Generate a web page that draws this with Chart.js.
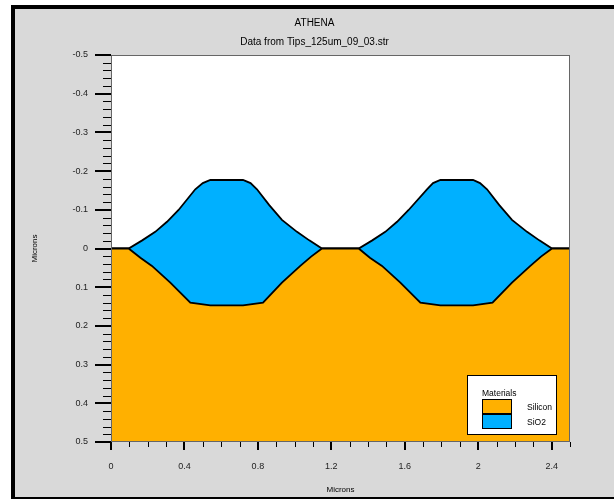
<!DOCTYPE html>
<html>
<head>
<meta charset="utf-8">
<script src="https://cdn.jsdelivr.net/npm/chart.js@4.4.1/dist/chart.umd.min.js"></script>
<style>
html,body{margin:0;padding:0;background:#fff;}
#c{display:block;}
</style>
</head>
<body>
<canvas id="c" width="614" height="499"></canvas>
<script>
// ---- data (microns) ----
const siliconX = [0, 0.096, 0.160, 0.223, 0.323, 0.432, 0.541, 0.719, 0.828, 0.931, 1.031, 1.090, 1.149, 1.349, 1.410, 1.476, 1.576, 1.685, 1.794, 1.972, 2.078, 2.184, 2.284, 2.342, 2.402, 2.5];
const siliconY = [0, 0, 0.024, 0.045, 0.088, 0.140, 0.147, 0.147, 0.140, 0.088, 0.045, 0.021, 0, 0, 0.024, 0.045, 0.088, 0.140, 0.147, 0.147, 0.140, 0.088, 0.045, 0.021, 0, 0];
const oxideX = [0, 0.096, 0.170, 0.241, 0.305, 0.368, 0.459, 0.500, 0.541, 0.719, 0.760, 0.795, 0.862, 0.931, 1.013, 1.080, 1.149, 1.349, 1.423, 1.494, 1.558, 1.621, 1.721, 1.754, 1.794, 1.972, 2.010, 2.048, 2.115, 2.184, 2.266, 2.333, 2.402, 2.5];
const oxideY = [0, 0, -0.021, -0.043, -0.069, -0.0995, -0.153, -0.169, -0.177, -0.177, -0.169, -0.153, -0.112, -0.074, -0.043, -0.021, 0, 0, -0.021, -0.043, -0.069, -0.0995, -0.153, -0.169, -0.177, -0.177, -0.169, -0.153, -0.112, -0.074, -0.043, -0.021, 0, 0];
const materials = ["Silicon", "SiO2"];
const xTickValues = [0, 0.4, 0.8, 1.2, 1.6, 2, 2.4];
const xTickLabels = ["0", "0.4", "0.8", "1.2", "1.6", "2", "2.4"];
const yTickValues = [-0.5, -0.4, -0.3, -0.2, -0.1, 0, 0.1, 0.2, 0.3, 0.4, 0.5];
const yTickLabels = ["-0.5", "-0.4", "-0.3", "-0.2", "-0.1", "0", "0.1", "0.2", "0.3", "0.4", "0.5"];
const titleText = "ATHENA";
const subtitleText = "Data from Tips_125um_09_03.str";
const axisTitle = "Microns";

const COLORS = { Silicon: "#FFB000", SiO2: "#00B0FF" };
const FONT = "'Liberation Sans', Arial, Helvetica, sans-serif";

const toPts = (xs, ys) => xs.map((x, i) => ({ x: x, y: ys[i] }));

const framePlugin = {
  id: 'frame',
  beforeDraw(chart) {
    const ctx = chart.ctx, W = chart.width, H = chart.height;
    ctx.save();
    ctx.fillStyle = '#ffffff';
    ctx.fillRect(0, 0, W, H);
    ctx.fillStyle = '#000000';
    ctx.fillRect(11, 5, W - 11, H - 5);
    ctx.fillStyle = '#d9d9d9';
    ctx.fillRect(15, 9, W - 15, H - 9 - 2);
    const a = chart.chartArea;
    ctx.fillStyle = '#ffffff';
    ctx.fillRect(a.left, a.top, a.right - a.left, a.bottom - a.top);
    ctx.restore();
  },
  afterDatasetsDraw(chart) {
    const ctx = chart.ctx, a = chart.chartArea;
    ctx.save();
    ctx.strokeStyle = '#666';
    ctx.lineWidth = 1;
    ctx.strokeRect(a.left + 0.5, a.top + 0.5, a.right - a.left - 1, a.bottom - a.top - 1);
    ctx.restore();
  },
  afterDraw(chart) {
    const ctx = chart.ctx, a = chart.chartArea;
    const xs = chart.scales.x, ys = chart.scales.y;
    ctx.save();
    ctx.strokeStyle = '#000';
    // y ticks
    for (let k = -25; k <= 25; k++) {
      const v = k / 50;
      const major = (k % 5 === 0);
      const py = Math.round(ys.getPixelForValue(v)) + (major ? 0 : 0.5);
      ctx.lineWidth = major ? 2 : 1;
      ctx.beginPath();
      ctx.moveTo(a.left - (major ? 16 : 8), py);
      ctx.lineTo(a.left, py);
      ctx.stroke();
    }
    // x ticks
    for (let k = 0; k <= 25; k++) {
      const v = k / 10;
      const major = (k % 4 === 0) && k <= 24;
      const px = Math.round(xs.getPixelForValue(v)) + (major ? 0 : 0.5);
      ctx.lineWidth = major ? 2 : 1;
      ctx.beginPath();
      ctx.moveTo(px, a.bottom);
      ctx.lineTo(px, a.bottom + (major ? 8 : 5));
      ctx.stroke();
    }
    // legend
    const L = { x: a.right - 103, y: a.bottom - 67, w: 90, h: 60 };
    ctx.fillStyle = '#fff';
    ctx.fillRect(L.x, L.y, L.w, L.h);
    ctx.lineWidth = 1;
    ctx.strokeStyle = '#000';
    ctx.strokeRect(L.x + 0.5, L.y + 0.5, L.w - 1, L.h - 1);
    ctx.fillStyle = '#000';
    ctx.font = "8.5px " + FONT;
    ctx.textBaseline = 'middle';
    ctx.textAlign = 'left';
    ctx.fillText('Materials', L.x + 15, L.y + 19);
    materials.forEach((m, i) => {
      const sy = L.y + 24 + i * 15;
      ctx.fillStyle = COLORS[m];
      ctx.fillRect(L.x + 15, sy, 30, 14);
      ctx.strokeStyle = '#000';
      ctx.strokeRect(L.x + 15.5, sy + 0.5, 29, 14);
      ctx.fillStyle = '#000';
      ctx.fillText(m, L.x + 60, sy + 9);
    });
    ctx.restore();
  }
};

new Chart(document.getElementById('c'), {
  type: 'line',
  data: {
    datasets: [
      {
        label: materials[0],
        data: toPts(siliconX, siliconY),
        borderColor: '#000',
        borderWidth: 1.8,
        backgroundColor: COLORS.Silicon,
        fill: { value: 0.5 },
        pointRadius: 0,
        tension: 0,
        order: 1
      },
      {
        label: materials[1],
        data: toPts(oxideX, oxideY),
        borderColor: '#000',
        borderWidth: 1.8,
        backgroundColor: COLORS.SiO2,
        fill: { value: 0.5 },
        pointRadius: 0,
        tension: 0,
        order: 2
      }
    ]
  },
  options: {
    responsive: false,
    animation: false,
    devicePixelRatio: 1,
    layout: { padding: { left: 15, right: 0, top: 0, bottom: 0 } },
    plugins: {
      legend: { display: false },
      tooltip: { enabled: false },
      title: {
        display: true, text: titleText, color: '#000',
        font: { family: FONT, size: 10, weight: 'normal', lineHeight: 1.2 },
        padding: { top: 17, bottom: 7 }
      },
      subtitle: {
        display: true, text: subtitleText, color: '#000',
        font: { family: FONT, size: 10, weight: 'normal', lineHeight: 1.2 },
        padding: { top: 0, bottom: 7 }
      }
    },
    scales: {
      x: {
        type: 'linear', min: 0, max: 2.5,
        grid: { display: false, drawTicks: false },
        border: { display: false },
        afterBuildTicks: s => { s.ticks = xTickValues.map(v => ({ value: v })); },
        afterFit: s => { s.height = 57; },
        ticks: {
          autoSkip: false, maxRotation: 0, padding: 19, color: '#222',
          font: { family: FONT, size: 9 },
          callback: (v, i) => xTickLabels[i]
        },
        title: {
          display: true, text: axisTitle, color: '#000',
          font: { family: FONT, size: 8, lineHeight: 1.2 },
          padding: { top: 0, bottom: 4 }
        }
      },
      y: {
        type: 'linear', min: -0.5, max: 0.5, reverse: true,
        grid: { display: false, drawTicks: false },
        border: { display: false },
        afterBuildTicks: s => { s.ticks = yTickValues.map(v => ({ value: v })); },
        afterFit: s => { s.width = 96; },
        ticks: {
          autoSkip: false, padding: 23, color: '#222',
          font: { family: FONT, size: 9 },
          callback: (v, i) => yTickLabels[i]
        },
        title: {
          display: true, text: axisTitle, color: '#000',
          font: { family: FONT, size: 8, lineHeight: 1.2 },
          padding: { top: 15, bottom: 0 }
        }
      },
      yR: {
        type: 'linear', position: 'right', display: true,
        grid: { display: false, drawTicks: false },
        border: { display: false },
        ticks: { display: false },
        afterFit: s => { s.width = 44; }
      }
    }
  },
  plugins: [framePlugin]
});
</script>
</body>
</html>
